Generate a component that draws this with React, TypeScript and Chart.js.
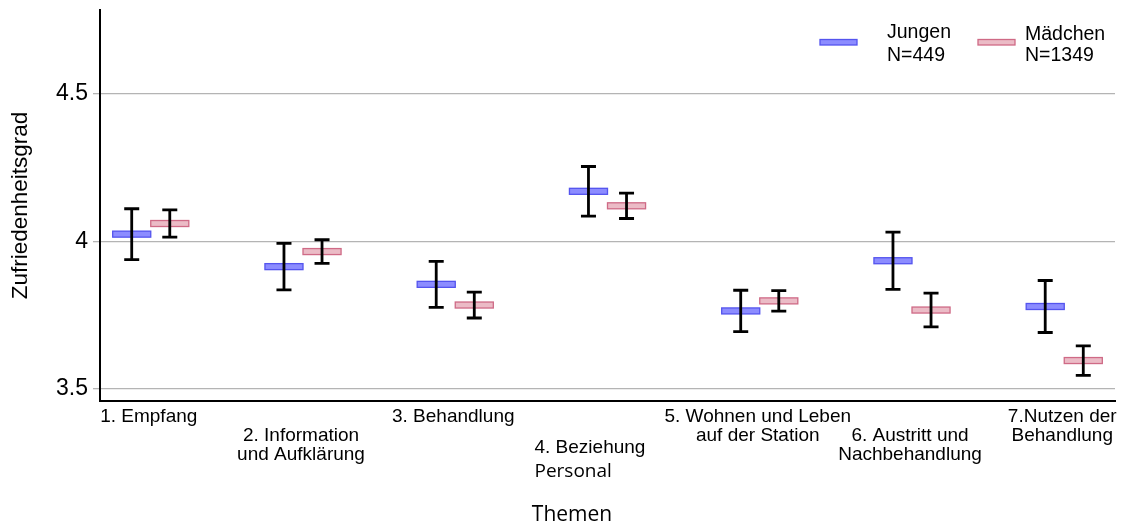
import { useEffect, useRef } from "react";
import { Chart, registerables } from "chart.js";

Chart.register(...registerables);

// Themen (x categories), one array of lines per label
const themen: string[][] = [
  ["1. Empfang"],
  ["2. Information", "und Aufklärung"],
  ["3. Behandlung"],
  ["4. Beziehung", "Personal"],
  ["5. Wohnen und Leben", "auf der Station"],
  ["6. Austritt und", "Nachbehandlung"],
  ["7.Nutzen der", "Behandlung"],
];

// Series
const serienNamen = ["Jungen", "Mädchen"];
const serienN = ["N=449", "N=1349"];

// Mean satisfaction and half-width of the error bar per topic
const jungenMittel = [4.024, 3.914, 3.854, 4.169, 3.764, 3.934, 3.779];
const jungenFehler = [0.086, 0.079, 0.078, 0.084, 0.070, 0.097, 0.088];
const maedchenMittel = [4.060, 3.965, 3.784, 4.120, 3.798, 3.767, 3.596];
const maedchenFehler = [0.046, 0.040, 0.044, 0.043, 0.035, 0.057, 0.050];

// Y axis
const yTicks = [3.5, 4, 4.5];
const yMin = 3.459;
const yMax = 4.783;

// Layout / style settings
const DODGE = 0.125; // horizontal offset of each series from the topic centre (x units)
const BOX_WIDTH = 0.25; // width of a mean box (x units)
const BOX_HEIGHT = 6; // px
const CAP = 7.5; // half width of the error-bar caps, px
const SANS = '"Liberation Sans", Arial, sans-serif';
const OPEN = '"Open Sans", "Noto Sans", sans-serif';
const FARBEN = [
  { fill: "#8c8cff", stroke: "#5454ee" },
  { fill: "#ebbbc6", stroke: "#cf6a86" },
];

// Label placement per topic: tier (vertical row)
const labelTier = [0, 1, 0, 2, 0, 1, 0];

const mittel = [jungenMittel, maedchenMittel];
const fehler = [jungenFehler, maedchenFehler];

const markPlugin = {
  id: "meanBoxesAndErrorBars",
  afterDatasetsDraw(chart: any) {
    const { ctx, scales } = chart;
    const x = scales.x;
    const y = scales.y;
    const boxW = Math.abs(x.getPixelForValue(BOX_WIDTH) - x.getPixelForValue(0));
    chart.data.datasets.forEach((_ds: any, di: number) => {
      const meta = chart.getDatasetMeta(di);
      const col = FARBEN[di];
      meta.data.forEach((pt: any, i: number) => {
        const cx = pt.x;
        const cy = pt.y;
        ctx.save();
        ctx.fillStyle = col.fill;
        ctx.strokeStyle = col.stroke;
        ctx.lineWidth = 1.3;
        ctx.fillRect(cx - boxW / 2, cy - BOX_HEIGHT / 2, boxW, BOX_HEIGHT);
        ctx.strokeRect(cx - boxW / 2, cy - BOX_HEIGHT / 2, boxW, BOX_HEIGHT);
        const m = mittel[di][i];
        const e = fehler[di][i];
        const top = y.getPixelForValue(m + e);
        const bot = y.getPixelForValue(m - e);
        ctx.strokeStyle = "#000";
        ctx.lineWidth = 2.8;
        ctx.lineCap = "butt";
        ctx.beginPath();
        ctx.moveTo(cx, top);
        ctx.lineTo(cx, bot);
        ctx.moveTo(cx - CAP, top);
        ctx.lineTo(cx + CAP, top);
        ctx.moveTo(cx - CAP, bot);
        ctx.lineTo(cx + CAP, bot);
        ctx.stroke();
        ctx.restore();
      });
    });
  },
  afterDraw(chart: any) {
    const { ctx, scales, chartArea } = chart;
    const x = scales.x;
    const base = chartArea.bottom;
    ctx.save();
    ctx.fillStyle = "#000";
    ctx.textBaseline = "middle";
    // topic labels
    themen.forEach((lines, i) => {
      const cx = x.getPixelForValue(i + 1);
      const tier = labelTier[i];
      if (tier === 2) {
        ctx.textAlign = "left";
        const lx = cx - 73;
        ctx.font = `19px ${SANS}`;
        ctx.fillText(lines[0], lx, base + 47);
        ctx.font = `19px ${OPEN}`;
        ctx.fillText(lines[1], lx, base + 71);
        return;
      }
      ctx.textAlign = "center";
      ctx.font = `19px ${SANS}`;
      const start = tier === 0 ? 16 : 35;
      lines.forEach((t, k) => {
        ctx.fillText(t, cx - 2, base + start + k * 19);
      });
    });
    // x-axis title
    ctx.font = `21px ${OPEN}`;
    ctx.textAlign = "center";
    ctx.fillText("Themen", 572, 515);

    // legend
    const leg = [
      { bx: 820, tx: 887, b1: 38, b2: 60.5 },
      { bx: 978, tx: 1025, b1: 40, b2: 60.5 },
    ];
    leg.forEach((l, i) => {
      ctx.fillStyle = FARBEN[i].fill;
      ctx.strokeStyle = FARBEN[i].stroke;
      ctx.lineWidth = 1.3;
      ctx.fillRect(l.bx, 39.5, 37, 5.5);
      ctx.strokeRect(l.bx, 39.5, 37, 5.5);
      ctx.fillStyle = "#000";
      ctx.font = `19.5px ${SANS}`;
      ctx.textAlign = "left";
      ctx.textBaseline = "alphabetic";
      ctx.fillText(serienNamen[i], l.tx, l.b1);
      ctx.fillText(serienN[i], l.tx, l.b2);
    });
    ctx.restore();
  },
};

export default function App() {
  const ref = useRef<HTMLCanvasElement>(null);

  useEffect(() => {
    if (!ref.current) return;
    const datasets = mittel.map((werte, di) => ({
      label: serienNamen[di],
      data: werte.map((v, i) => ({ x: i + 1 + (di === 0 ? -DODGE : DODGE), y: v })),
      pointRadius: 0,
      pointHoverRadius: 0,
      showLine: false,
    }));
    const chart = new Chart(ref.current, {
      type: "scatter",
      data: { datasets },
      options: {
        responsive: false,
        animation: false,
        layout: { padding: { top: 10, right: 8, left: 0, bottom: 0 } },
        plugins: { legend: { display: false }, tooltip: { enabled: false } },
        scales: {
          x: {
            type: "linear",
            min: 2 / 3,
            max: 7 + 1 / 3,
            ticks: { display: false },
            grid: { display: true, drawOnChartArea: false, drawTicks: false, color: "rgba(0,0,0,0)" },
            border: { display: true, color: "#000", width: 2 },
            afterFit: (s: any) => {
              s.height = 127;
              s.paddingLeft = 0;
              s.paddingRight = 0;
            },
          },
          y: {
            type: "linear",
            min: yMin,
            max: yMax,
            afterBuildTicks: (s: any) => {
              s.ticks = yTicks.map((v) => ({ value: v }));
            },
            ticks: {
              color: "#000",
              font: { family: SANS, size: 23 },
              padding: 5,
              callback: (v: any) => String(v),
            },
            grid: { color: "#b4b4b4", lineWidth: 1.3, tickLength: 7, drawTicks: true },
            border: { display: true, color: "#000", width: 2 },
            title: {
              display: true,
              text: "Zufriedenheitsgrad",
              color: "#000",
              font: { family: SANS, size: 22.5 },
              padding: { top: 7, bottom: 0 },
            },
            afterFit: (s: any) => {
              s.width = 100;
              s.paddingTop = 0;
              s.paddingBottom = 0;
            },
          },
        },
      },
      plugins: [markPlugin],
    });
    return () => chart.destroy();
  }, []);

  return (
    <div style={{ position: "absolute", left: 0, top: 0, width: 1123, height: 528, background: "#fff" }}>
      <canvas ref={ref} width={1123} height={528} style={{ display: "block" }} />
    </div>
  );
}
